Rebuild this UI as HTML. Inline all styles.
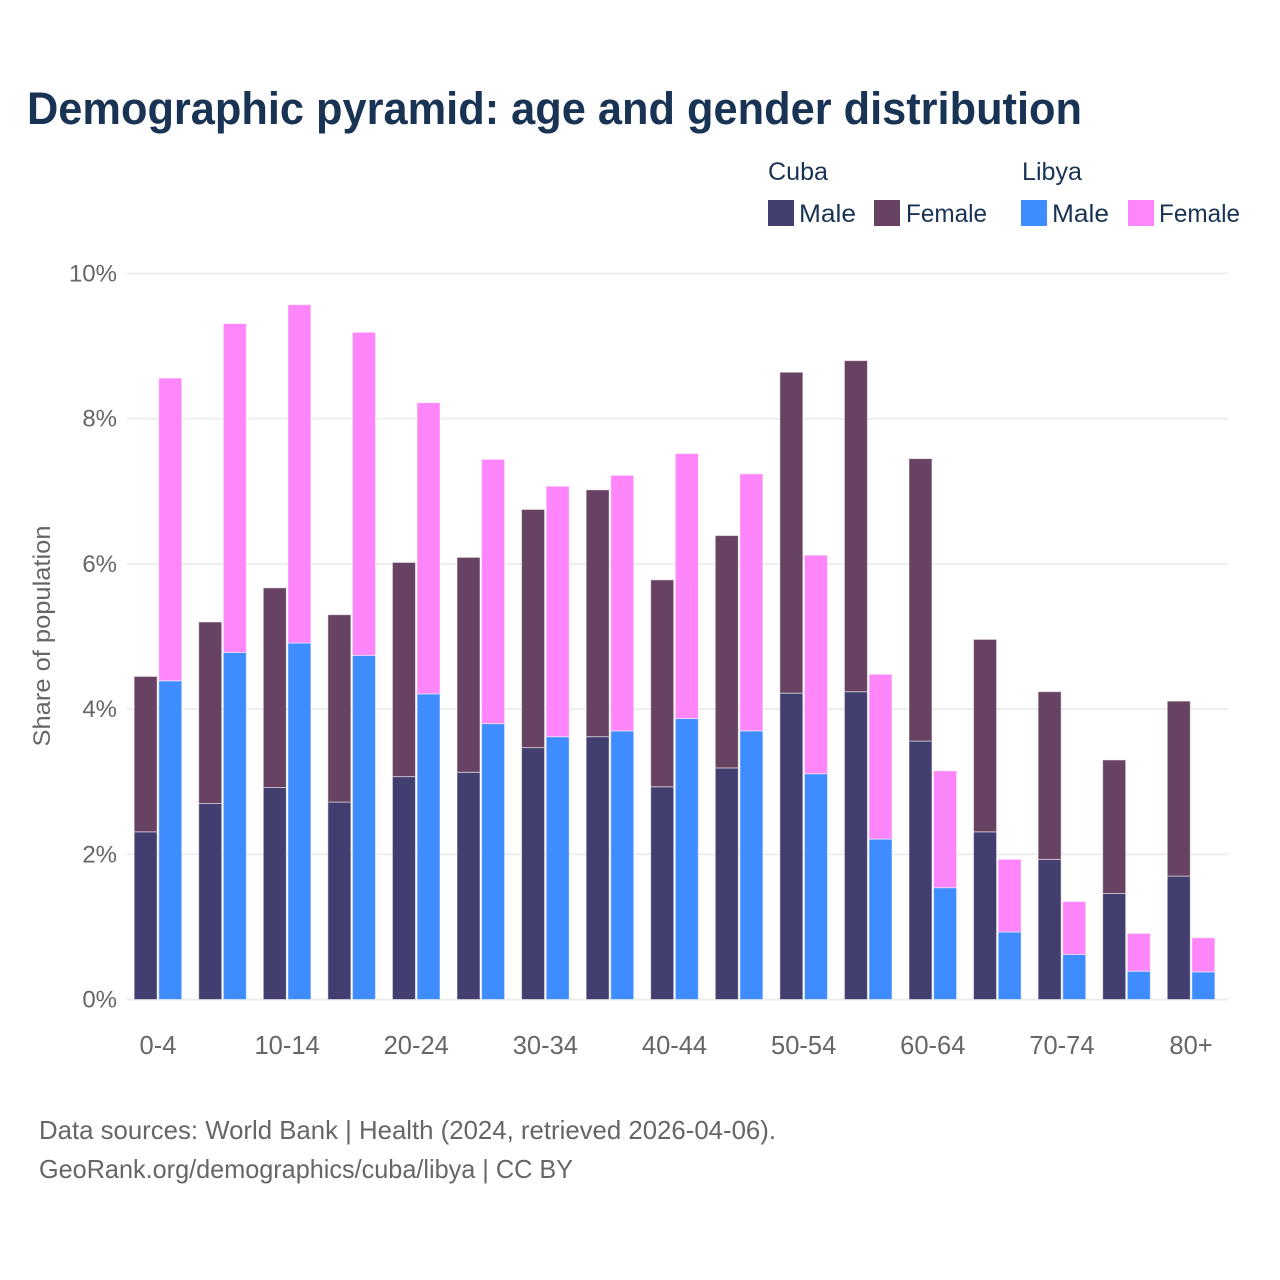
<!DOCTYPE html>
<html lang="en">
<head>
<meta charset="utf-8">
<title>Demographic pyramid</title>
<style>
html,body{margin:0;padding:0;background:#fff;}
svg{display:block;font-family:"Liberation Sans",sans-serif;}
</style>
</head>
<body>
<svg id="chart" xmlns="http://www.w3.org/2000/svg" width="1280" height="1280" viewBox="0 0 1280 1280">
  <rect x="0" y="0" width="1280" height="1280" fill="#ffffff"/>
  <text x="27" y="124" font-size="45" font-weight="700" fill="#193354" textLength="1055" lengthAdjust="spacingAndGlyphs">Demographic pyramid: age and gender distribution</text>

  <g font-size="25" fill="#193354">
    <text x="768" y="180" textLength="60" lengthAdjust="spacingAndGlyphs">Cuba</text>
    <text x="1022" y="180" textLength="60" lengthAdjust="spacingAndGlyphs">Libya</text>
    <rect x="768" y="200" width="26" height="26" fill="#433e70"/>
    <text x="799" y="222" textLength="57" lengthAdjust="spacingAndGlyphs">Male</text>
    <rect x="874" y="200" width="26" height="26" fill="#684262"/>
    <text x="906" y="222" textLength="81" lengthAdjust="spacingAndGlyphs">Female</text>
    <rect x="1021" y="200" width="26" height="26" fill="#3f8cff"/>
    <text x="1052" y="222" textLength="57" lengthAdjust="spacingAndGlyphs">Male</text>
    <rect x="1128" y="200" width="26" height="26" fill="#ff85fa"/>
    <text x="1159" y="222" textLength="81" lengthAdjust="spacingAndGlyphs">Female</text>
  </g>

  <g id="grid"></g>
  <g id="yticks" font-size="24" fill="#666666" text-anchor="end"></g>
  <g id="bars"></g>
  <g id="xticks" font-size="25.5" fill="#666666" text-anchor="middle"></g>

  <text transform="translate(50,636) rotate(-90)" font-size="24" fill="#666666" text-anchor="middle" textLength="221" lengthAdjust="spacingAndGlyphs">Share of population</text>

  <g font-size="26" fill="#666666">
    <text x="39" y="1139" textLength="737" lengthAdjust="spacingAndGlyphs">Data sources: World Bank | Health (2024, retrieved 2026-04-06).</text>
    <text x="39" y="1178" textLength="534" lengthAdjust="spacingAndGlyphs">GeoRank.org/demographics/cuba/libya | CC BY</text>
  </g>
</svg>
<script>
const categories = ["0-4","5-9","10-14","15-19","20-24","25-29","30-34","35-39","40-44","45-49","50-54","55-59","60-64","65-69","70-74","75-79","80+"];
const tickCategories = ["0-4","10-14","20-24","30-34","40-44","50-54","60-64","70-74","80+"];
const cubaMale = [2.31,2.70,2.92,2.72,3.07,3.13,3.47,3.62,2.93,3.19,4.22,4.24,3.56,2.31,1.93,1.46,1.70];
const cubaFemale = [2.14,2.50,2.75,2.58,2.95,2.96,3.28,3.40,2.85,3.20,4.42,4.56,3.89,2.65,2.31,1.84,2.41];
const libyaMale = [4.39,4.78,4.91,4.74,4.21,3.80,3.62,3.70,3.87,3.70,3.11,2.21,1.54,0.93,0.62,0.39,0.38];
const libyaFemale = [4.17,4.53,4.66,4.45,4.01,3.64,3.45,3.52,3.65,3.54,3.01,2.27,1.61,1.00,0.73,0.52,0.47];
const yTicks = [0,2,4,6,8,10];

const NS = "http://www.w3.org/2000/svg";
const plotLeft = 127, plotRight = 1228;
const y0 = 999.5, yPerUnit = 72.6;
const firstCenter = 157.95, step = 64.57;
const barWidth = 23, barOffset = 12.3;
function yScale(v){ return y0 - v * yPerUnit; }
function xScale(i){ return firstCenter + i * step; }

const gridG = document.getElementById("grid");
const yG = document.getElementById("yticks");
const barsG = document.getElementById("bars");
const xG = document.getElementById("xticks");

yTicks.forEach(function(t){
  const line = document.createElementNS(NS, "line");
  line.setAttribute("x1", plotLeft);
  line.setAttribute("x2", plotRight);
  line.setAttribute("y1", yScale(t));
  line.setAttribute("y2", yScale(t));
  line.setAttribute("stroke", "#ededed");
  line.setAttribute("stroke-width", 2);
  
  
  gridG.appendChild(line);
  const label = document.createElementNS(NS, "text");
  label.setAttribute("x", 117);
  label.setAttribute("y", yScale(t) + 8);
  label.textContent = t + "%";
  
  
  yG.appendChild(label);
});

function addBar(cx, bottom, value, fill, name){
  const top = bottom + value;
  const r = document.createElementNS(NS, "rect");
  r.setAttribute("x", cx - barWidth / 2);
  r.setAttribute("y", yScale(top));
  r.setAttribute("width", barWidth);
  r.setAttribute("height", yScale(bottom) - yScale(top));
  r.setAttribute("fill", fill);
  r.setAttribute("stroke", "#ffffff");
  r.setAttribute("stroke-opacity", "0.5");
  r.setAttribute("stroke-width", 1);
  
  
  barsG.appendChild(r);
}

categories.forEach(function(c, i){
  const cx = xScale(i);
  addBar(cx - barOffset, 0, cubaMale[i], "#433e70", "bar-cuba-male");
  addBar(cx - barOffset, cubaMale[i], cubaFemale[i], "#684262", "bar-cuba-female");
  addBar(cx + barOffset, 0, libyaMale[i], "#3f8cff", "bar-libya-male");
  addBar(cx + barOffset, libyaMale[i], libyaFemale[i], "#ff85fa", "bar-libya-female");
});

tickCategories.forEach(function(c){
  const i = categories.indexOf(c);
  const label = document.createElementNS(NS, "text");
  label.setAttribute("x", xScale(i));
  label.setAttribute("y", 1054);
  label.textContent = c;
  
  
  xG.appendChild(label);
});
</script>
</body>
</html>
